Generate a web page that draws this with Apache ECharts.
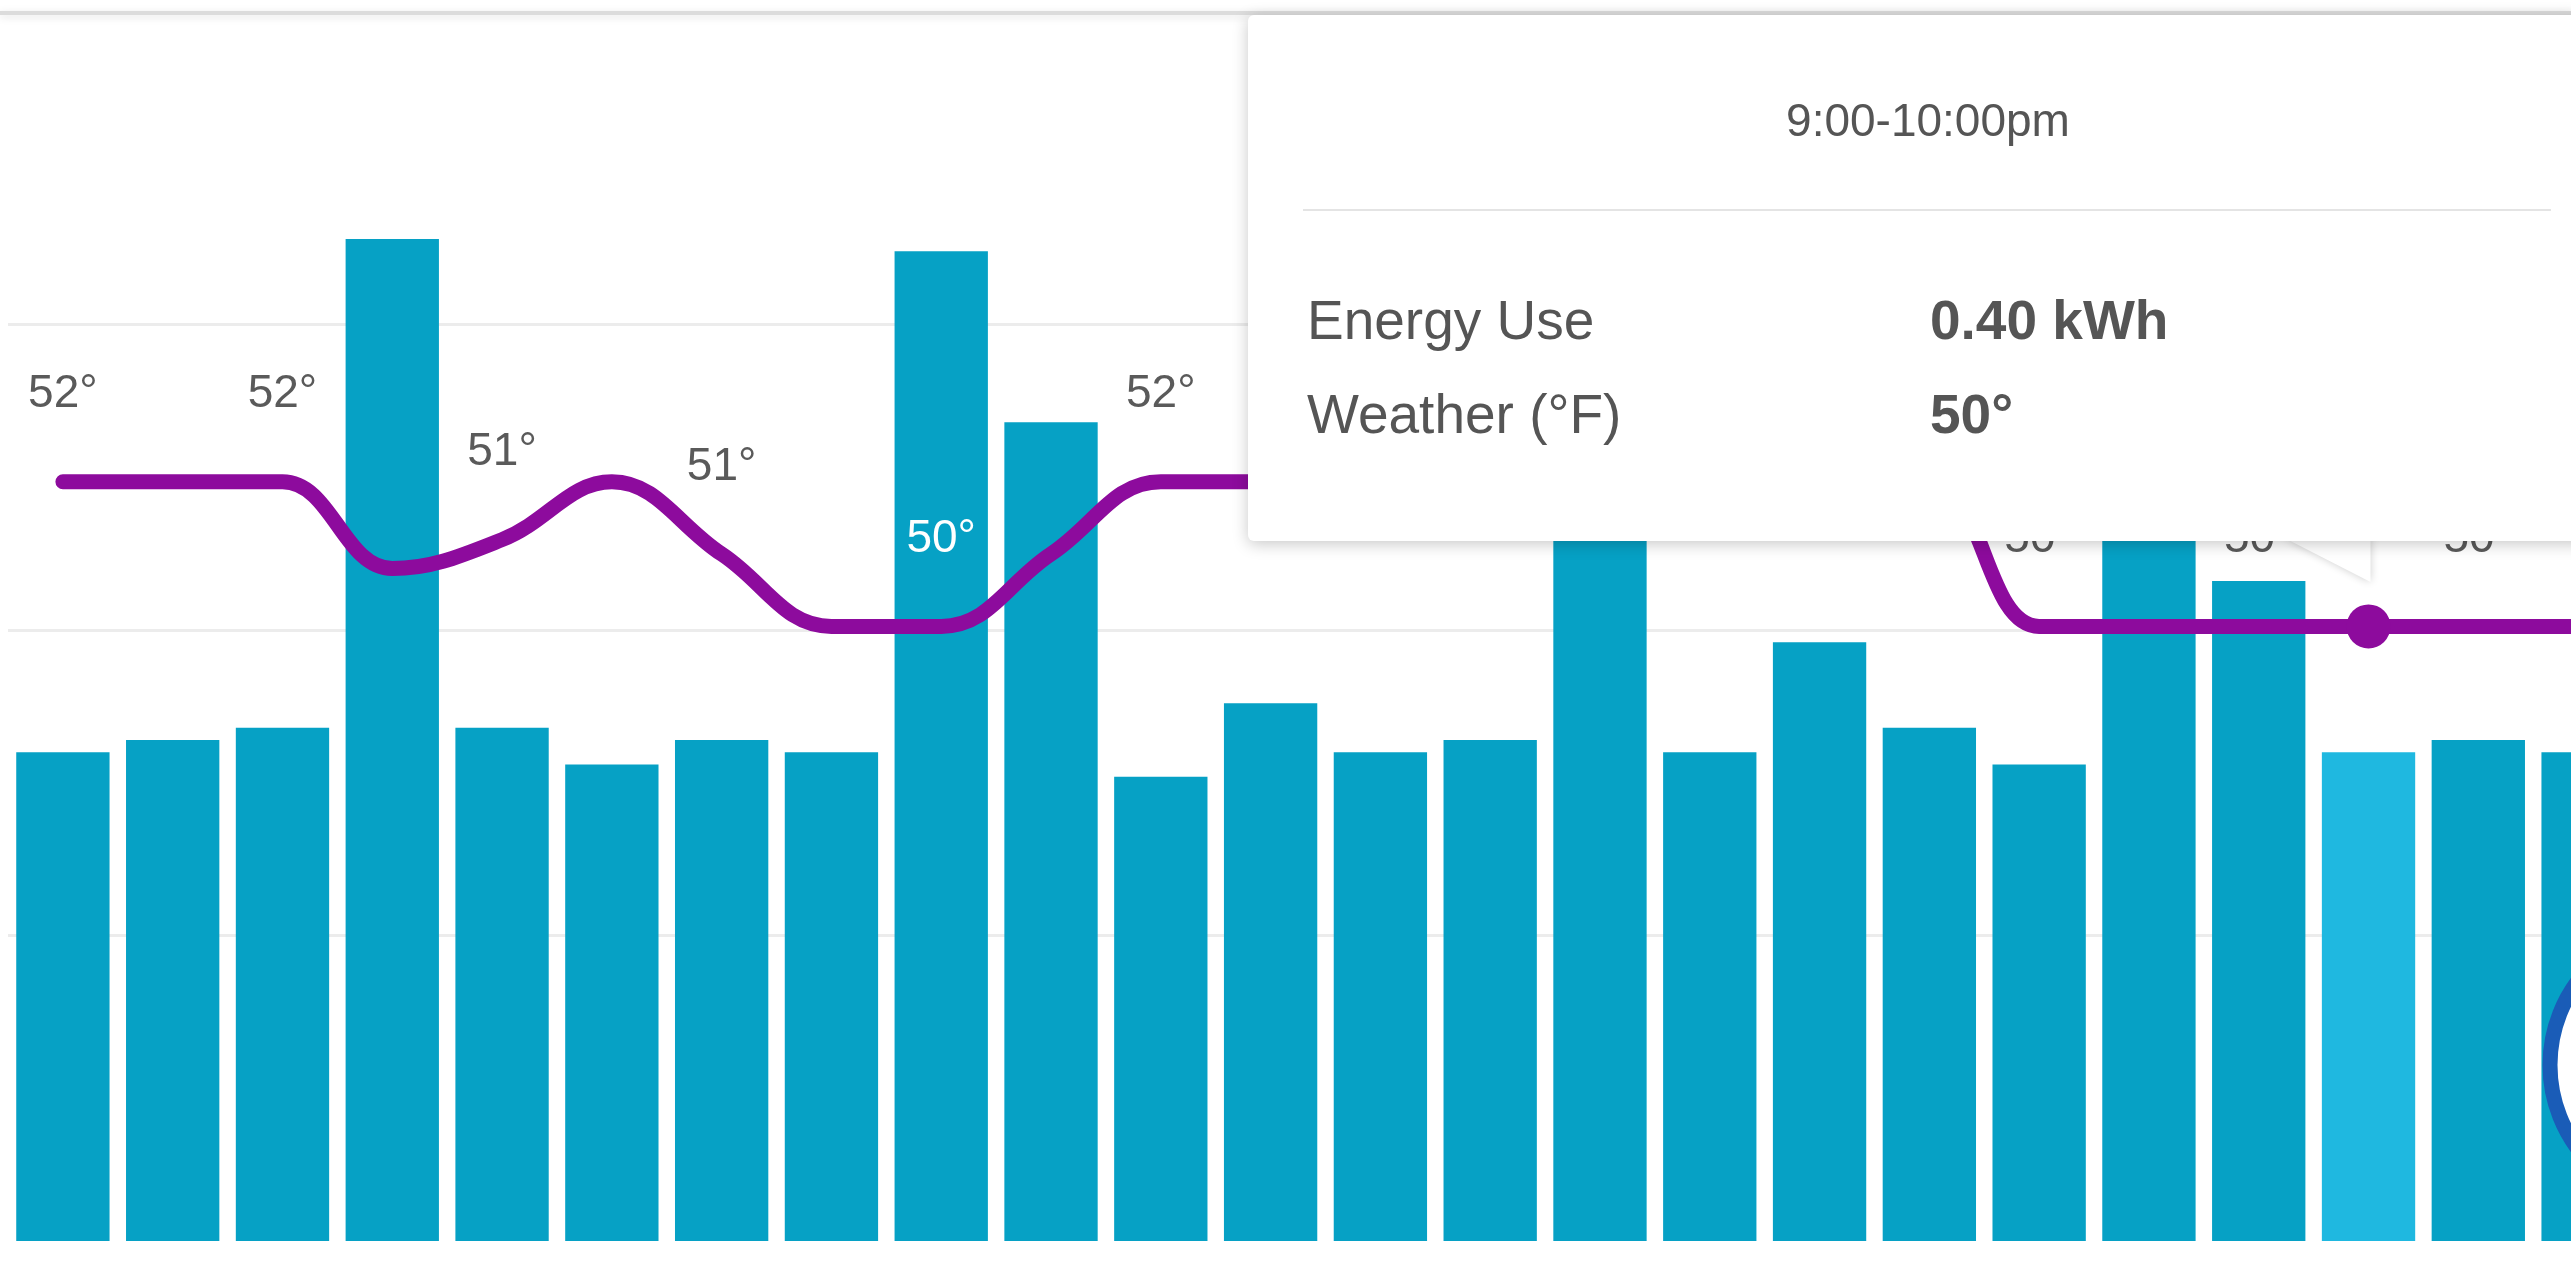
<!DOCTYPE html>
<html lang="en">
  <head>
    <meta charset="utf-8" />
    <title>Hourly energy use and weather</title>
    <script src="https://cdn.jsdelivr.net/npm/echarts@6/dist/echarts.min.js"></script>
    <style>
      html, body { margin: 0; padding: 0; overflow: hidden; background: #fff; }
      #chart { width: 2571px; height: 1262px; overflow: hidden; }
    </style>
  </head>
  <body>
    <div id="chart"></div>
    <script>
      // one bucket per hour of the day
      var hours = [
        '12:00-1:00am', '1:00-2:00am', '2:00-3:00am', '3:00-4:00am', '4:00-5:00am', '5:00-6:00am',
        '6:00-7:00am', '7:00-8:00am', '8:00-9:00am', '9:00-10:00am', '10:00-11:00am', '11:00am-12:00pm',
        '12:00-1:00pm', '1:00-2:00pm', '2:00-3:00pm', '3:00-4:00pm', '4:00-5:00pm', '5:00-6:00pm',
        '6:00-7:00pm', '7:00-8:00pm', '8:00-9:00pm', '9:00-10:00pm', '10:00-11:00pm', '11:00pm-12:00am'
      ]
      // kWh
      var energyUse = [
        0.40, 0.41, 0.42, 0.82, 0.42, 0.39, 0.41, 0.40, 0.81, 0.67, 0.38, 0.44,
        0.40, 0.41, 0.80, 0.40, 0.49, 0.42, 0.39, 0.82, 0.54, 0.40, 0.41, 0.40
      ]
      // degrees F
      var weather = [
        52, 52, 52, 50.8, 51.2, 52, 51, 50, 50, 51, 52, 52,
        52, 52, 52, 52, 52, 52, 50, 50, 50, 50, 50, 50
      ]
      var energyTicks = [0, 0.25, 0.5, 0.75, 1]
      // hour under the pointer
      var activeHour = 21

      var FONT = '"Liberation Sans", Arial, sans-serif'
      var BAR = '#06a1c5'
      var BAR_ACTIVE = '#1fb8e0'
      var PURPLE = '#8d0b9d'

      var chart = echarts.init(document.getElementById('chart'))

      function tooltipHtml (i) {
        return '<div style="position:relative;width:1360px;height:526px;font-family:' + FONT.replace(/"/g, "'") + ';color:#555;">' +
          '<div style="position:absolute;left:0;right:0;top:75px;line-height:60px;text-align:center;font-size:46px;">' + hours[i] + '</div>' +
          '<div style="position:absolute;left:55px;right:57px;top:194px;border-top:2px solid #e4e4e4;"></div>' +
          '<div style="position:absolute;left:59px;top:273px;line-height:64px;font-size:55px;">Energy Use</div>' +
          '<div style="position:absolute;left:682px;top:273px;line-height:64px;font-size:55px;font-weight:bold;">' + energyUse[i].toFixed(2) + ' kWh</div>' +
          '<div style="position:absolute;left:59px;top:367px;line-height:64px;font-size:55px;">Weather (°F)</div>' +
          '<div style="position:absolute;left:682px;top:367px;line-height:64px;font-size:55px;font-weight:bold;">' + Math.round(weather[i]) + '°</div>' +
          '</div>'
      }

      chart.setOption({
        animation: false,
        backgroundColor: '#fff',
        // the day runs a little past the right edge of the view
        grid: { left: 8, top: 19, bottom: 21, width: 2635, outerBoundsMode: 'none' },
        tooltip: {
          trigger: 'item',
          triggerOn: 'none',
          alwaysShowContent: true,
          transitionDuration: 0,
          padding: 0,
          borderWidth: 0,
          backgroundColor: '#fff',
          extraCssText: 'box-shadow: 0 3px 16px rgba(0,0,0,0.22); border-radius: 6px;',
          position: function (point) {
            return [point[0] - 1121, 15]
          },
          formatter: function (p) {
            return tooltipHtml(p.dataIndex)
          }
        },
        xAxis: {
          type: 'category',
          data: hours,
          axisLine: { show: false },
          axisTick: { show: false },
          axisLabel: { show: false }
        },
        yAxis: [
          {
            type: 'value',
            min: energyTicks[0],
            max: energyTicks[energyTicks.length - 1],
            interval: energyTicks[1] - energyTicks[0],
            axisLabel: { show: false },
            splitLine: { show: true, showMinLine: false, showMaxLine: false, lineStyle: { color: '#ececec', width: 3 } }
          },
          {
            type: 'value',
            min: 41.5,
            max: 58.4,
            axisLabel: { show: false },
            splitLine: { show: false }
          }
        ],
        series: [
          {
            name: 'Energy Use',
            type: 'bar',
            barCategoryGap: '15%',
            emphasis: { disabled: true },
            itemStyle: { color: BAR },
            data: energyUse.map(function (v, i) {
              return i === activeHour ? { value: v, itemStyle: { color: BAR_ACTIVE } } : v
            })
          },
          {
            name: 'Weather (°F)',
            type: 'line',
            yAxisIndex: 1,
            smooth: 0.4,
            showSymbol: true,
            symbol: 'circle',
            symbolSize: function (v, p) {
              return p.dataIndex === activeHour ? 44 : 0
            },
            emphasis: { disabled: true },
            lineStyle: { color: PURPLE, width: 15, cap: 'round', join: 'round' },
            itemStyle: { color: PURPLE },
            label: {
              show: true,
              position: 'top',
              distance: 64,
              fontSize: 46,
              fontFamily: FONT,
              color: '#5a5a5a',
              formatter: function (p) {
                return p.dataIndex % 2 === 0 ? Math.round(p.value) + '°' : ''
              }
            },
            // labels sitting on a tall bar read white
            data: weather.map(function (v, i) {
              return energyUse[i] > 0.7 ? { value: v, label: { color: '#fff' } } : v
            })
          }
        ]
      })

      var pt = chart.convertToPixel({ seriesIndex: 1 }, [activeHour, weather[activeHour]])

      chart.setOption({
        graphic: [
          {
            type: 'rect',
            z: 50,
            shape: { x: 0, y: 11, width: 2571, height: 4 },
            style: { fill: '#dcdcdc', shadowBlur: 8, shadowOffsetY: 2, shadowColor: 'rgba(0,0,0,0.12)' }
          },
          {
            // pointer under the tooltip box
            type: 'polygon',
            z: 50,
            shape: { points: [[pt[0] - 84, 538], [pt[0] + 2, 538], [pt[0] + 2, 582]] },
            style: { fill: '#fff', shadowBlur: 8, shadowColor: 'rgba(0,0,0,0.2)' }
          },
          {
            type: 'circle',
            z: 60,
            shape: { cx: 2690, cy: 1065, r: 140 },
            style: { fill: '#fff', stroke: '#1a5cb7', lineWidth: 15 }
          }
        ]
      })

      chart.dispatchAction({ type: 'showTip', seriesIndex: 1, dataIndex: activeHour })
    </script>
  </body>
</html>
